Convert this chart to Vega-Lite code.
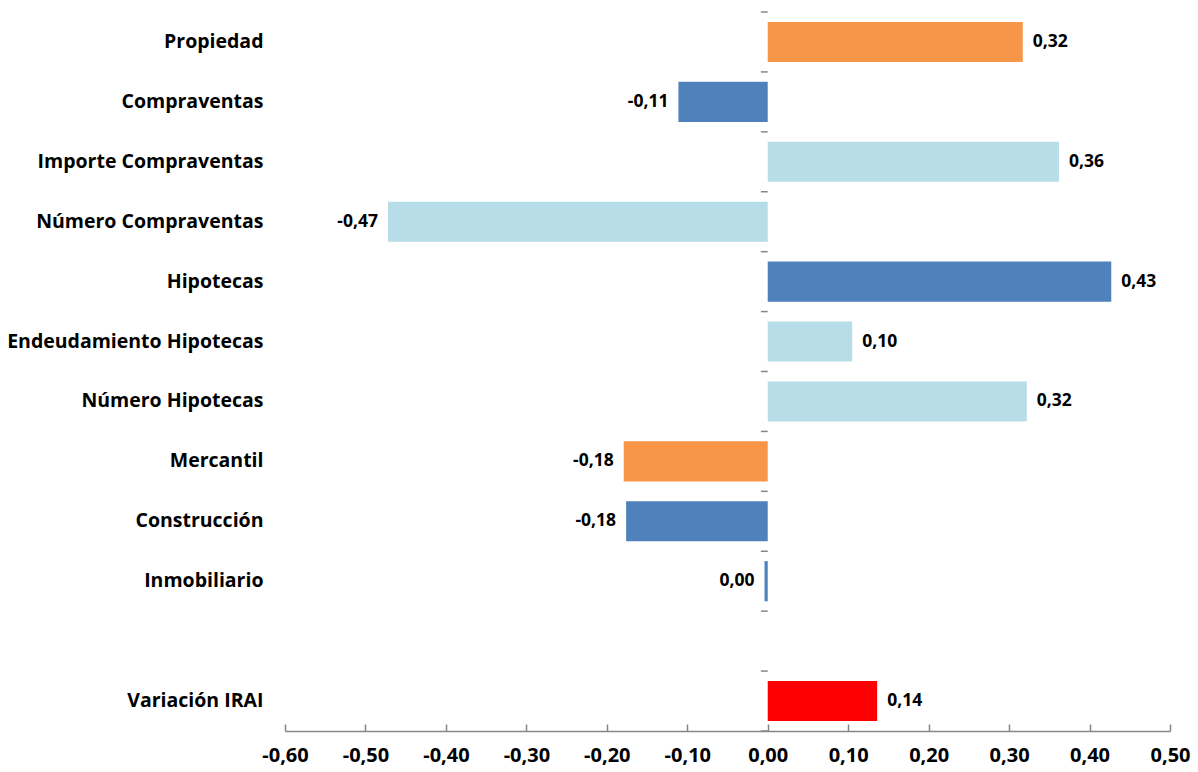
{
  "$schema": "https://vega.github.io/schema/vega-lite/v6.json",
  "autosize": {"type": "none"},
  "width": 885,
  "height": 719,
  "padding": {"left": 285, "top": 12, "right": 28, "bottom": 41},
  "background": "white",
  "config": {
    "view": {"stroke": null},
    "font": "Open Sans",
    "locale": {
      "number": {"decimal": ",", "thousands": ".", "grouping": [3], "currency": ["", " €"], "minus": "-"}
    }
  },
  "datasets": {
    "indicadores": [
      {"serie": "Propiedad", "nivel": "Registro", "valor": 0.317},
      {"serie": "Compraventas", "nivel": "Indicador", "valor": -0.111},
      {"serie": "Importe Compraventas", "nivel": "Componente", "valor": 0.362},
      {"serie": "Número Compraventas", "nivel": "Componente", "valor": -0.472},
      {"serie": "Hipotecas", "nivel": "Indicador", "valor": 0.427},
      {"serie": "Endeudamiento Hipotecas", "nivel": "Componente", "valor": 0.105},
      {"serie": "Número Hipotecas", "nivel": "Componente", "valor": 0.322},
      {"serie": "Mercantil", "nivel": "Registro", "valor": -0.179},
      {"serie": "Construcción", "nivel": "Indicador", "valor": -0.176},
      {"serie": "Inmobiliario", "nivel": "Indicador", "valor": -0.004},
      {"serie": "Variación IRAI", "nivel": "IRAI", "valor": 0.136}
    ],
    "filas": [
      {"serie": "Propiedad"},
      {"serie": "Compraventas"},
      {"serie": "Importe Compraventas"},
      {"serie": "Número Compraventas"},
      {"serie": "Hipotecas"},
      {"serie": "Endeudamiento Hipotecas"},
      {"serie": "Número Hipotecas"},
      {"serie": "Mercantil"},
      {"serie": "Construcción"},
      {"serie": "Inmobiliario"},
      {"serie": " "},
      {"serie": "Variación IRAI"}
    ]
  },
  "encoding": {
    "y": {
      "field": "serie",
      "type": "nominal",
      "title": null,
      "scale": {
        "domain": ["Propiedad", "Compraventas", "Importe Compraventas", "Número Compraventas", "Hipotecas", "Endeudamiento Hipotecas", "Número Hipotecas", "Mercantil", "Construcción", "Inmobiliario", " ", "Variación IRAI"],
        "paddingInner": 0,
        "paddingOuter": 0
      },
      "axis": {
        "domain": false,
        "ticks": false,
        "labelPadding": 22,
        "labelLimit": 320,
        "labelFontSize": 19.5,
        "labelFontWeight": "bold",
        "labelColor": "#000000",
        "labelFont": "Open Sans"
      }
    }
  },
  "layer": [
    {
      "data": {"name": "indicadores"},
      "mark": {"type": "bar", "height": {"band": 0.67}},
      "encoding": {
        "x": {
          "field": "valor",
          "type": "quantitative",
          "title": null,
          "scale": {"domain": [-0.6, 0.5], "nice": false, "zero": false},
          "axis": {
            "values": [-0.6, -0.5, -0.4, -0.3, -0.2, -0.1, 0, 0.1, 0.2, 0.3, 0.4, 0.5],
            "format": ".2f",
            "grid": false,
            "labelFlush": false,
            "labelOverlap": false,
            "domainColor": "#868686",
            "domainWidth": 1.5,
            "tickColor": "#868686",
            "tickWidth": 1.5,
            "tickSize": -7,
            "labelPadding": 21,
            "labelFontSize": 20,
            "labelFontWeight": "bold",
            "labelColor": "#000000",
            "labelFont": "Open Sans"
          }
        },
        "color": {
          "field": "nivel",
          "type": "nominal",
          "scale": {
            "domain": ["Registro", "Indicador", "Componente", "IRAI"],
            "range": ["#F79646", "#4F81BD", "#B7DDE8", "#FF0000"]
          },
          "legend": null
        }
      }
    },
    {
      "mark": {"type": "rule", "color": "#868686", "strokeWidth": 1.5},
      "encoding": {"x": {"datum": 0}}
    },
    {
      "data": {"name": "filas"},
      "mark": {"type": "rule", "color": "#868686", "strokeWidth": 1.5},
      "encoding": {
        "y": {"field": "serie", "type": "nominal", "bandPosition": 0},
        "x": {"datum": -0.0085},
        "x2": {"datum": 0}
      }
    },
    {
      "data": {"name": "filas"},
      "transform": [{"filter": "datum.serie === 'Variación IRAI'"}],
      "mark": {"type": "rule", "color": "#868686", "strokeWidth": 1.5},
      "encoding": {
        "y": {"field": "serie", "type": "nominal", "bandPosition": 1},
        "x": {"datum": -0.0085},
        "x2": {"datum": 0}
      }
    },
    {
      "data": {"name": "indicadores"},
      "transform": [{"filter": "datum.valor >= 0"}],
      "mark": {"type": "text", "align": "left", "baseline": "middle", "dx": 10, "fontSize": 17.5, "fontWeight": "bold", "color": "#000000", "font": "Open Sans"},
      "encoding": {
        "x": {"field": "valor", "type": "quantitative"},
        "text": {"field": "valor", "type": "quantitative", "format": ".2f"}
      }
    },
    {
      "data": {"name": "indicadores"},
      "transform": [{"filter": "datum.valor < 0"}],
      "mark": {"type": "text", "align": "right", "baseline": "middle", "dx": -10, "fontSize": 17.5, "fontWeight": "bold", "color": "#000000", "font": "Open Sans"},
      "encoding": {
        "x": {"field": "valor", "type": "quantitative"},
        "text": {"field": "valor", "type": "quantitative", "format": ".2f"}
      }
    }
  ]
}
